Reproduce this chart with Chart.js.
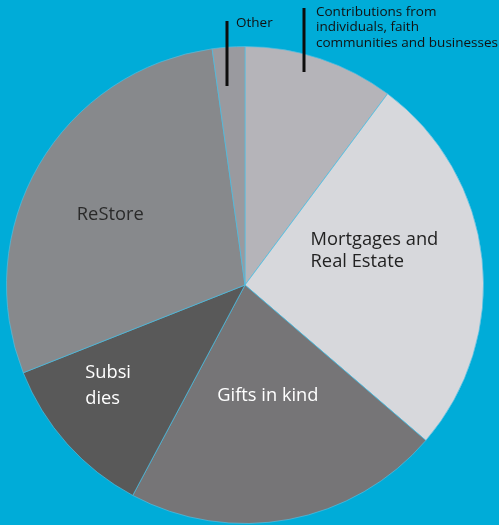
<!DOCTYPE html>
<html>
<head>
<meta charset="utf-8">
<script src="https://cdn.jsdelivr.net/npm/chart.js@4.4.1/dist/chart.umd.min.js"></script>
<style>
  html, body { margin: 0; padding: 0; background: #00acd8; }
  #wrap { width: 499px; height: 525px; position: relative; }
</style>
</head>
<body>
<div id="wrap"><canvas id="pie"></canvas></div>
<script>
// data, clockwise from 12 o'clock
const categories = ['Contributions from individuals, faith communities and businesses',
  'Mortgages and Real Estate', 'Gifts in kind', 'Subsidies', 'ReStore', 'Other'];
const shares = [10.2, 26.1, 21.5, 11.2, 28.8, 2.2];
const sliceColors = ['#b5b4b9', '#d7d8dc', '#767577', '#595959', '#87898c', '#9a9a9f'];

// label text as shown on the picture (index into categories)
const insideLabels = [
  { i: 1, lines: ['Mortgages and', 'Real Estate'], dx: 0.275, dy: -0.143, align: 'left', color: '#222', lh: 22 },
  { i: 2, lines: ['Gifts in kind'], dx: 0.096, dy: 0.464, align: 'center', color: '#fff', lh: 22 },
  { i: 3, lines: ['Subsi', 'dies'], dx: -0.67, dy: 0.423, align: 'left', color: '#fff', lh: 26 },
  { i: 4, lines: ['ReStore'], dx: -0.565, dy: -0.293, align: 'center', color: '#2a2a2a', lh: 22 }
];
const outsideLabels = [
  { lines: ['Other'], x: 236, y: 23, barX: 227, barTop: 21, barBottom: 86 },
  { lines: ['Contributions from', 'individuals, faith', 'communities and businesses'], x: 316, y: 12, barX: 304, barTop: 8, barBottom: 72 }
];

const FONT = '"Open Sans", sans-serif';

const labelPlugin = {
  id: 'labels',
  afterDraw(chart) {
    const ctx = chart.ctx;
    const arc = chart.getDatasetMeta(0).data[0];
    const cx = arc.x, cy = arc.y, r = arc.outerRadius;
    ctx.save();
    ctx.textBaseline = 'middle';
    ctx.font = '18.3px ' + FONT;
    insideLabels.forEach(l => {
      ctx.fillStyle = l.color;
      ctx.textAlign = l.align;
      l.lines.forEach((t, k) => {
        ctx.fillText(t, cx + l.dx * r, cy + l.dy * r + k * l.lh - (l.lines.length - 1) * l.lh / 2);
      });
    });
    ctx.font = '13.5px ' + FONT;
    ctx.textAlign = 'left';
    outsideLabels.forEach(l => {
      ctx.strokeStyle = '#0d0d0d';
      ctx.lineWidth = 3;
      ctx.beginPath();
      ctx.moveTo(l.barX, l.barTop);
      ctx.lineTo(l.barX, l.barBottom);
      ctx.stroke();
      ctx.fillStyle = '#111';
      l.lines.forEach((t, k) => ctx.fillText(t, l.x, l.y + k * 15.5));
    });
    ctx.restore();
  }
};

new Chart(document.getElementById('pie'), {
  type: 'pie',
  data: {
    labels: categories,
    datasets: [{
      data: shares,
      backgroundColor: sliceColors,
      borderColor: 'rgba(80,190,225,0.7)',
      borderWidth: 1
    }]
  },
  options: {
    responsive: true,
    maintainAspectRatio: false,
    animation: false,
    layout: { padding: { left: 6, right: 15, top: 46, bottom: 1 } },
    plugins: {
      legend: { display: false },
      tooltip: { enabled: false }
    }
  },
  plugins: [labelPlugin]
});
</script>
</body>
</html>
